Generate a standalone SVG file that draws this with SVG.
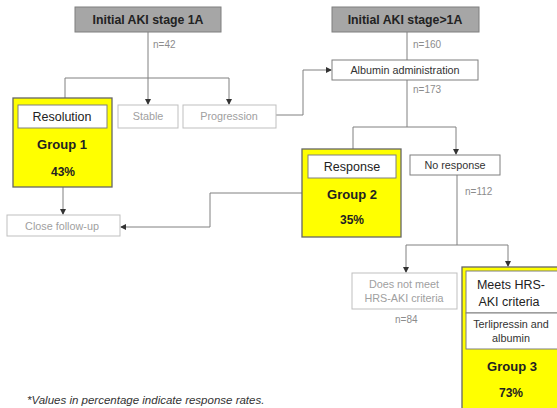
<svg xmlns="http://www.w3.org/2000/svg" width="557" height="408" viewBox="0 0 557 408">
<style>
text{font-family:"Liberation Sans",Arial,sans-serif;text-anchor:middle}
.hdr{fill:#a6a6a6;stroke:#7f7f7f;stroke-width:1}
.hdrt{font-size:12.3px;font-weight:bold;fill:#222}
.box{fill:#fff;stroke:#bfbfbf;stroke-width:1}
.dbox{fill:#fff;stroke:#7f7f7f;stroke-width:1}
.grp{fill:#ffff00;stroke:#666;stroke-width:1.3}
.lt{font-size:10.8px;fill:#a0a0a0}
.dt{font-size:10.8px;fill:#333}
.mt{font-size:12.5px;fill:#222}
.gt{font-size:13px;font-weight:bold;fill:#222}
.pt{font-size:12px;font-weight:bold;fill:#222}
.n{font-size:10px;fill:#8c8c8c;text-anchor:start}
.c{fill:none;stroke:#808080;stroke-width:1}
</style>
<defs>
<marker id="ar" markerWidth="6" markerHeight="6" refX="5" refY="3" orient="auto" markerUnits="userSpaceOnUse">
<path d="M0,0 L6,3 L0,6 z" fill="#333"/>
</marker>
</defs>
<g id="connectors">
<path class="c" d="M148,32 V78"/>
<path class="c" d="M65,78 H229"/>
<path class="c" d="M65,78 V104" marker-end="url(#ar)"/>
<path class="c" d="M148,78 V104" marker-end="url(#ar)"/>
<path class="c" d="M229,78 V104" marker-end="url(#ar)"/>
<path class="c" d="M276,115 H303 V70 H331" marker-end="url(#ar)"/>
<path class="c" d="M407,32 V60"/>
<path class="c" d="M407,80 V127"/>
<path class="c" d="M353,127 H456"/>
<path class="c" d="M353,127 V154" marker-end="url(#ar)"/>
<path class="c" d="M456,127 V154" marker-end="url(#ar)"/>
<path class="c" d="M63,187 V214" marker-end="url(#ar)"/>
<path class="c" d="M302,193 H210 V227 H121" marker-end="url(#ar)"/>
<path class="c" d="M457,175 V245"/>
<path class="c" d="M406,245 H508"/>
<path class="c" d="M406,245 V272" marker-end="url(#ar)"/>
<path class="c" d="M508,245 V266" marker-end="url(#ar)"/>
</g>
<g id="stage1a">
<rect class="hdr" x="75" y="7" width="146" height="25"/>
<text class="hdrt" x="148" y="24">Initial AKI stage 1A</text>
</g>
<text class="n" x="153" y="48">n=42</text>
<g id="stage_gt1a">
<rect class="hdr" x="332" y="7" width="147" height="25"/>
<text class="hdrt" x="405" y="24">Initial AKI stage&gt;1A</text>
</g>
<text class="n" x="413" y="48">n=160</text>
<g id="group1">
<rect class="grp" x="13" y="98" width="99" height="89"/>
<rect class="dbox" x="18" y="105" width="89" height="23"/>
<text class="mt" x="62" y="121">Resolution</text>
<text class="gt" x="62" y="149">Group 1</text>
<text class="pt" x="63" y="176">43%</text>
</g>
<g id="stable">
<rect class="box" x="118" y="105" width="60" height="23"/>
<text class="lt" x="148" y="120">Stable</text>
</g>
<g id="progression">
<rect class="box" x="183" y="105" width="93" height="23"/>
<text class="lt" x="229" y="120">Progression</text>
</g>
<g id="albumin">
<rect class="dbox" x="332" y="60" width="146" height="20"/>
<text class="dt" x="405" y="74">Albumin administration</text>
</g>
<text class="n" x="413" y="93">n=173</text>
<g id="group2">
<rect class="grp" x="302" y="149" width="99" height="88"/>
<rect class="dbox" x="308" y="155" width="88" height="23"/>
<text class="mt" x="352" y="171">Response</text>
<text class="gt" x="352" y="199">Group 2</text>
<text class="pt" x="352" y="224">35%</text>
</g>
<g id="noresponse">
<rect class="dbox" x="410" y="155" width="90" height="20"/>
<text class="dt" x="455" y="169">No response</text>
</g>
<text class="n" x="465" y="195">n=112</text>
<g id="closefollowup">
<rect class="box" x="7" y="215" width="113" height="21"/>
<text class="lt" x="62" y="229.5">Close follow-up</text>
</g>
<g id="doesnotmeet">
<rect class="box" x="352" y="273" width="105" height="36"/>
<text class="lt" x="404" y="288">Does not meet</text>
<text class="lt" x="404" y="302">HRS-AKI criteria</text>
</g>
<text class="n" x="395" y="323">n=84</text>
<g id="group3">
<rect class="grp" x="462" y="267" width="100" height="150"/>
<rect class="dbox" x="466" y="271" width="96" height="42"/>
<rect class="dbox" x="466" y="313" width="96" height="36"/>
<text class="mt" x="511" y="289">Meets HRS-</text>
<text class="mt" x="509" y="306">AKI criteria</text>
<text class="dt" x="511" y="328">Terlipressin and</text>
<text class="dt" x="511" y="342">albumin</text>
<text class="gt" x="512" y="371">Group 3</text>
<text class="pt" x="511" y="397">73%</text>
</g>
<text x="27" y="404" style="font-size:11.5px;font-style:italic;fill:#333;text-anchor:start">*Values in percentage indicate response rates.</text>
</svg>
